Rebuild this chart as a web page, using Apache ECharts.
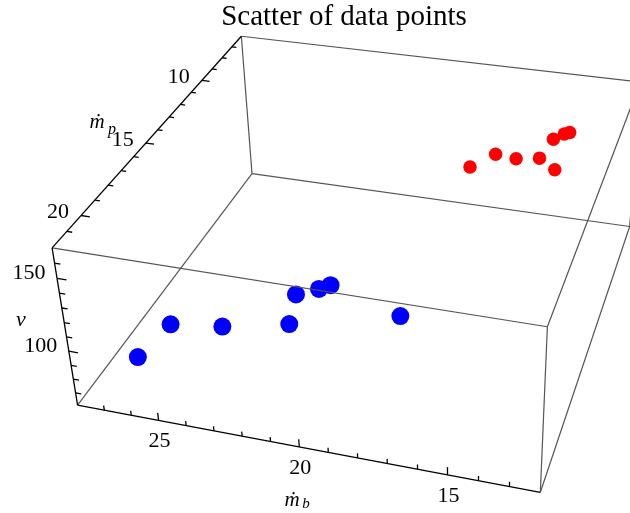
<!DOCTYPE html>
<html>
<head>
<meta charset="utf-8">
<title>Scatter of data points</title>
<script src="https://cdn.jsdelivr.net/npm/echarts@6/dist/echarts.min.js"></script>
<style>
  html, body { margin: 0; background: #fff; }
  #chart { width: 630px; height: 513px; }
</style>
</head>
<body>
<div id="chart"></div>
<script>
// box ranges
const mbRange = [12, 28];
const mpRange = [6, 22];
const vRange = [61, 170];

// ticks
const mbTicks = [25, 20, 15];
const mbMinor = [27, 26, 24, 23, 22, 21, 19, 18, 17, 16, 14, 13];
const mpTicks = [20, 15, 10];
const mpMinor = [21, 19, 18, 17, 16, 14, 13, 12, 11, 9, 8, 7];
const vTicks = [150, 100];
const vMinor = [160, 140, 130, 120, 110, 90, 80, 70];

// blue set
const blueMb = [26.6, 25.2, 23.3, 20.9, 20.6, 19.8, 19.4, 17.1];
const blueMp = [20, 20, 20, 20, 20, 20, 20, 20];
const blueV = [75.6, 104.0, 108.7, 118.4, 139.4, 145.6, 149.3, 136.2];

// red set
const redMb = [18.0, 17.0, 16.2, 15.3, 14.7, 14.8, 14.4, 14.2];
const redMp = [8, 8, 8, 8, 8, 8, 8, 8];
const redV = [111.3, 123.5, 122.2, 124.9, 117.7, 140.0, 144.9, 146.4];

// camera (perspective, on box coords scaled to 0..1)
const cam = [-3.6027, -2.0278, -0.2477, 6.2970,
             -0.4089, 1.6246, -1.4888, 2.2650,
             0.0691, -0.2099, -0.0554, 1.0];

const proj = (mb, mp, v) => {
  const X = (mb - mbRange[0]) / (mbRange[1] - mbRange[0]);
  const Y = (mp - mpRange[0]) / (mpRange[1] - mpRange[0]);
  const Z = (v - vRange[0]) / (vRange[1] - vRange[0]);
  const w = cam[8] * X + cam[9] * Y + cam[10] * Z + cam[11];
  return [100 * (cam[0] * X + cam[1] * Y + cam[2] * Z + cam[3]) / w,
          100 * (cam[4] * X + cam[5] * Y + cam[6] * Z + cam[7]) / w];
};

const mbLo = mbRange[0], mbHi = mbRange[1], mpLo = mpRange[0], mpHi = mpRange[1], vLo = vRange[0], vHi = vRange[1];
const mbSpan = mbHi - mbLo, vSpan = vHi - vLo;

// box edges (axes are the three black ones)
const grayEdges = [
  [[mbHi, mpLo, vHi], [mbHi, mpLo, vLo]],
  [[mbHi, mpLo, vLo], [mbHi, mpHi, vLo]],
  [[mbHi, mpLo, vLo], [mbLo, mpLo, vLo]],
  [[mbHi, mpLo, vHi], [mbLo, mpLo, vHi]],
  [[mbHi, mpHi, vHi], [mbLo, mpHi, vHi]],
  [[mbLo, mpHi, vHi], [mbLo, mpHi, vLo]],
  [[mbLo, mpHi, vHi], [mbLo, mpLo, vHi]],
  [[mbLo, mpHi, vLo], [mbLo, mpLo, vLo]],
  [[mbLo, mpLo, vHi], [mbLo, mpLo, vLo]]
];
const axisEdges = [
  [[mbHi, mpHi, vLo], [mbLo, mpHi, vLo]],
  [[mbHi, mpHi, vHi], [mbHi, mpLo, vHi]],
  [[mbHi, mpHi, vHi], [mbHi, mpHi, vLo]]
];
const seg = e => ({ coords: [proj(...e[0]), proj(...e[1])] });

const tickSegs = [];
mbTicks.forEach(t => tickSegs.push(seg([[t, mpHi, vLo], [t, mpHi, vLo + 0.05 * vSpan]])));
mbMinor.forEach(t => tickSegs.push(seg([[t, mpHi, vLo], [t, mpHi, vLo + 0.03 * vSpan]])));
mpTicks.forEach(t => tickSegs.push(seg([[mbHi, t, vHi], [mbHi - 0.02 * mbSpan, t, vHi]])));
mpMinor.forEach(t => tickSegs.push(seg([[mbHi, t, vHi], [mbHi - 0.012 * mbSpan, t, vHi]])));
vTicks.forEach(t => tickSegs.push(seg([[mbHi, mpHi, t], [mbHi - 0.021 * mbSpan, mpHi, t]])));
vMinor.forEach(t => tickSegs.push(seg([[mbHi, mpHi, t], [mbHi - 0.013 * mbSpan, mpHi, t]])));

const serif = "'Liberation Serif', 'DejaVu Serif', serif";
const tickLabel = (data, offset) => ({
  type: 'scatter', symbolSize: 0, silent: true, z: 5, data: data,
  itemStyle: { opacity: 1 },
  label: { show: true, position: 'inside', offset: offset, formatter: p => String(p.value[2]),
           fontFamily: serif, fontSize: 22, color: '#000', opacity: 1, textBorderWidth: 0 }
});

const pts = (mb, mp, v) => mb.map((x, i) => proj(x, mp[i], v[i]));

const chart = echarts.init(document.getElementById('chart'));
chart.setOption({
  animation: false,
  grid: { left: 0, right: 0, top: 0, bottom: 0 },
  xAxis: { type: 'value', min: 0, max: 630, show: false },
  yAxis: { type: 'value', min: 0, max: 513, inverse: true, show: false },
  series: [
    { type: 'scatter', data: pts(redMb, redMp, redV), symbolSize: 13.5,
      itemStyle: { color: '#ff0000', opacity: 1 }, z: 2 },
    { type: 'scatter', data: pts(blueMb, blueMp, blueV), symbolSize: 18,
      itemStyle: { color: '#0000ff', opacity: 1 }, z: 2 },
    { type: 'lines', coordinateSystem: 'cartesian2d', data: grayEdges.map(seg), z: 3,
      lineStyle: { color: '#555', width: 1.2, opacity: 1 } },
    { type: 'lines', coordinateSystem: 'cartesian2d', data: axisEdges.map(seg).concat(tickSegs), z: 3,
      lineStyle: { color: '#000', width: 1.3, opacity: 1 } },
    tickLabel(mbTicks.map(t => proj(t, mpHi, vLo).concat(t)), [1, 21]),
    tickLabel(mpTicks.map(t => proj(mbHi, t, vHi).concat(t)), [-23, -3]),
    tickLabel(vTicks.map(t => proj(mbHi, mpHi, t).concat(t)), [-28, -5])
  ],
  graphic: [
    { type: 'text', x: 344, y: 17, style: { text: 'Scatter of data points', font: '29px ' + serif,
      fill: '#000', align: 'center', verticalAlign: 'middle' } },
    { type: 'text', x: 292, y: 500, style: { text: 'ṁ', font: 'italic 21px ' + serif, fill: '#000', align: 'center', verticalAlign: 'middle' } },
    { type: 'text', x: 306, y: 504, style: { text: 'b', font: 'italic 15px ' + serif, fill: '#000', align: 'center', verticalAlign: 'middle' } },
    { type: 'text', x: 97, y: 122, style: { text: 'ṁ', font: 'italic 21px ' + serif, fill: '#000', align: 'center', verticalAlign: 'middle' } },
    { type: 'text', x: 112, y: 130, style: { text: 'p', font: 'italic 16px ' + serif, fill: '#000', align: 'center', verticalAlign: 'middle' } },
    { type: 'text', x: 21, y: 320, style: { text: 'v', font: 'italic 22px ' + serif, fill: '#000', align: 'center', verticalAlign: 'middle' } }
  ]
});
</script>
</body>
</html>
